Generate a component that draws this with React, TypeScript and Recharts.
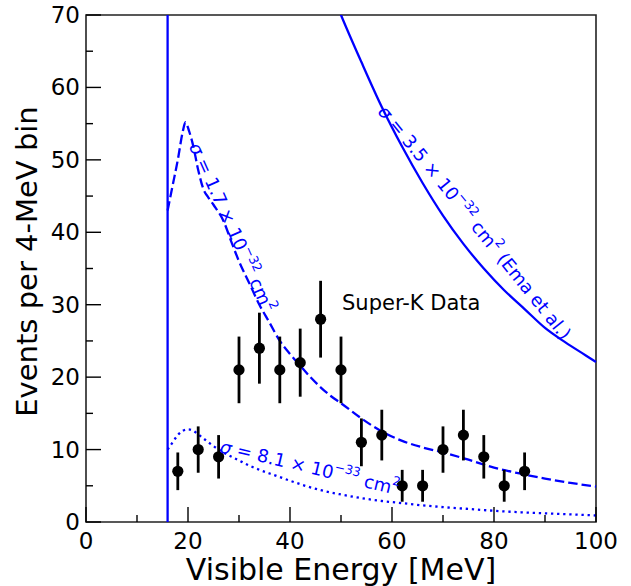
import { ComposedChart, Line, Scatter, ErrorBar, XAxis, YAxis, ReferenceArea, ReferenceDot } from 'recharts';

const xTicks = [0, 10, 20, 30, 40, 50, 60, 70, 80, 90, 100];
const yTicks = [0, 5, 10, 15, 20, 25, 30, 35, 40, 45, 50, 55, 60, 65, 70];

// Super-K data, 4 MeV bins
const binCenters = [18, 22, 26, 30, 34, 38, 42, 46, 50, 54, 58, 62, 66, 70, 74, 78, 82, 86];
const counts = [7, 10, 9, 21, 24, 21, 22, 28, 21, 11, 12, 5, 5, 10, 12, 9, 5, 7];
const countErrors = [2.6, 3.2, 3.0, 4.6, 4.9, 4.6, 4.7, 5.3, 4.6, 3.3, 3.5, 2.2, 2.2, 3.2, 3.5, 3.0, 2.2, 2.6];

// threshold edge of the solid curve
const edgeE = [16, 16];
const edgeEvents = [0, 300];

// sigma = 3.5e-32 (Ema et al.), solid
const emaE = [40, 44, 46, 48, 50, 54, 58, 62, 66, 70, 74, 78, 82, 86, 90, 94, 98, 100];
const emaEvents = [93, 82, 77.5, 73.5, 70, 63.5, 57.3, 51.8, 46.8, 42.3, 38.4, 35.0, 32.0, 29.4, 26.8, 24.8, 23.0, 22.1];

// sigma = 1.7e-32, dashed
const midE = [16, 17, 18, 19, 19.5, 20.2, 21, 22, 23, 24, 25, 27, 28.6, 30, 32, 34, 36, 38, 40, 42, 44, 46, 48, 50, 54, 58, 62, 66, 70, 75, 80, 85, 90, 95, 100];
const midEvents = [43, 46.5, 50, 54, 55.2, 54, 52, 48.6, 46, 44.8, 43.8, 41.5, 38.5, 36, 33, 30, 27.5, 25, 23.2, 21.6, 20, 18.6, 17.4, 16.4, 14.3, 12.5, 11.2, 10.3, 9.6, 8.6, 7.5, 6.7, 6.0, 5.4, 4.9];

// sigma = 8.1e-33, dotted
const lowE = [16, 17, 18, 19, 20, 21, 22, 24, 26, 28, 30, 32, 34, 36, 38, 40, 43, 46, 50, 54, 58, 62, 66, 70, 75, 80, 85, 90, 95, 100];
const lowEvents = [10, 11, 12, 12.6, 12.8, 12.6, 12.1, 11.0, 10.0, 9.2, 8.5, 7.8, 7.2, 6.7, 6.2, 5.7, 5.0, 4.4, 3.8, 3.3, 2.9, 2.6, 2.3, 2.05, 1.8, 1.55, 1.35, 1.2, 1.05, 0.9];

const zip = (xs: number[], ys: number[]) => xs.map((x, i) => ({ x, y: ys[i] }));
const edgeData = zip(edgeE, edgeEvents);
const emaData = zip(emaE, emaEvents);
const midData = zip(midE, midEvents);
const lowData = zip(lowE, lowEvents);
const skData = binCenters.map((x, i) => ({ x, y: counts[i], err: countErrors[i] }));

const FONT = '"DejaVu Sans", sans-serif';
const BLUE = '#0000ff';

function XTick(props: any) {
  const { x, y, payload } = props;
  const major = payload.value % 20 === 0;
  return (
    <g>
      <line x1={x} x2={x} y1={y} y2={y - (major ? 15 : 7)} stroke="#000" strokeWidth={1.4} />
      {major && (
        <text x={x} y={y + 27} textAnchor="middle" fontSize={23} fontFamily={FONT} fill="#000">
          {payload.value}
        </text>
      )}
    </g>
  );
}

function YTick(props: any) {
  const { x, y, payload } = props;
  const major = payload.value % 10 === 0;
  return (
    <g>
      <line x1={x} x2={x + (major ? 15 : 7)} y1={y} y2={y} stroke="#000" strokeWidth={1.4} />
      {major && (
        <text x={x - 6} y={y + 8} textAnchor="end" fontSize={23} fontFamily={FONT} fill="#000">
          {payload.value}
        </text>
      )}
    </g>
  );
}

function SigmaLabel(props: any) {
  const { viewBox, angle, mant, exp, tail } = props;
  const cx = viewBox.x;
  const cy = viewBox.y;
  return (
    <text
      x={cx}
      y={cy}
      transform={`rotate(${angle} ${cx} ${cy})`}
      textAnchor="middle"
      dominantBaseline="central"
      fill={BLUE}
      fontSize={18}
      fontFamily={FONT}
    >
      <tspan fontStyle="italic">σ</tspan> = {mant} × 10<tspan dy={-7} fontSize={12.5}>−{exp}</tspan>
      <tspan dy={7}> cm</tspan><tspan dy={-7} fontSize={12.5}>2</tspan>
      <tspan dy={7}>{tail}</tspan>
    </text>
  );
}

export default function App() {
  return (
    <div style={{ position: 'absolute', left: 0, top: 0, background: '#fff' }}>
      <ComposedChart width={631} height={586} margin={{ top: 15, right: 35, left: 0, bottom: 0 }}>
        <XAxis
          dataKey="x"
          type="number"
          domain={[0, 100]}
          ticks={xTicks}
          height={64}
          tickSize={0}
          tickMargin={0}
          tickLine={false}
          axisLine={false}
          tick={<XTick />}
          interval={0}
          label={{
            content: (p: any) => (
              <text
                x={p.viewBox.x + p.viewBox.width / 2}
                y={p.viewBox.y + 58}
                textAnchor="middle"
                fontSize={30}
                fontFamily={FONT}
                fill="#000"
              >
                Visible Energy [MeV]
              </text>
            ),
          }}
        />
        <YAxis
          type="number"
          domain={[0, 70]}
          allowDataOverflow
          ticks={yTicks}
          width={86}
          tickSize={0}
          tickMargin={0}
          tickLine={false}
          axisLine={false}
          tick={<YTick />}
          interval={0}
          label={{
            content: (p: any) => {
              const lx = p.viewBox.x + 37;
              const ly = p.viewBox.y + p.viewBox.height / 2 - 7;
              return (
                <text
                  x={lx}
                  y={ly}
                  transform={`rotate(-90 ${lx} ${ly})`}
                  textAnchor="middle"
                  fontSize={29}
                  fontFamily={FONT}
                  fill="#000"
                >
                  Events per 4-MeV bin
                </text>
              );
            },
          }}
        />
        <Line data={edgeData} dataKey="y" type="linear" stroke={BLUE} strokeWidth={2.3} dot={false} activeDot={false} isAnimationActive={false} />
        <Line data={emaData} dataKey="y" type="monotone" stroke={BLUE} strokeWidth={2.3} dot={false} activeDot={false} isAnimationActive={false} />
        <Line data={midData} dataKey="y" type="monotone" stroke={BLUE} strokeWidth={2.3} strokeDasharray="9.5 4" dot={false} activeDot={false} isAnimationActive={false} />
        <Line data={lowData} dataKey="y" type="monotone" stroke={BLUE} strokeWidth={2.3} strokeDasharray="2.3 3.8" dot={false} activeDot={false} isAnimationActive={false} />
        <Scatter
          data={skData}
          dataKey="y"
          isAnimationActive={false}
          shape={(p: any) => <circle cx={p.cx} cy={p.cy} r={5.6} fill="#000" />}
        >
          <ErrorBar dataKey="err" direction="y" width={0} stroke="#000" strokeWidth={2.8} isAnimationActive={false} />
        </Scatter>
        <ReferenceArea x1={0} x2={100} y1={0} y2={70} fill="none" stroke="#222" strokeWidth={1.6} />
        <ReferenceDot
          x={50.2}
          y={29.3}
          r={0}
          fill="none"
          stroke="none"
          label={{
            content: (p: any) => (
              <text x={p.viewBox.x} y={p.viewBox.y} fontSize={21} fontFamily={FONT} fill="#000">
                Super-K Data
              </text>
            ),
          }}
        />
        <ReferenceDot
          x={76.3}
          y={41.4}
          r={0}
          fill="none"
          stroke="none"
          label={{ content: (p: any) => <SigmaLabel {...p} angle={51} mant="3.5" exp="32" tail=" (Ema et al.)" /> }}
        />
        <ReferenceDot
          x={28.7}
          y={40.7}
          r={0}
          fill="none"
          stroke="none"
          label={{ content: (p: any) => <SigmaLabel {...p} angle={66} mant="1.7" exp="32" tail="" /> }}
        />
        <ReferenceDot
          x={43.9}
          y={7.6}
          r={0}
          fill="none"
          stroke="none"
          label={{ content: (p: any) => <SigmaLabel {...p} angle={13.5} mant="8.1" exp="33" tail="" /> }}
        />
      </ComposedChart>
    </div>
  );
}
